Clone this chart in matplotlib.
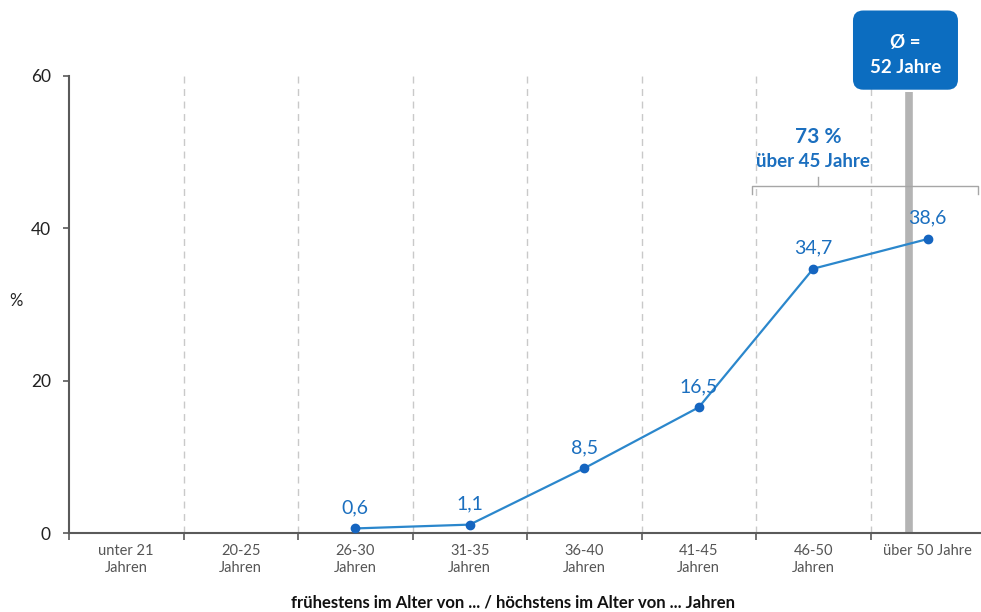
import numpy as np
import matplotlib.pyplot as plt
from matplotlib.patches import FancyBboxPatch

plt.rcParams['font.family'] = ['Lato', 'DejaVu Sans']

categories = ['unter 21\nJahren', '20-25\nJahren', '26-30\nJahren', '31-35\nJahren',
              '36-40\nJahren', '41-45\nJahren', '46-50\nJahren', 'über 50 Jahre']
values = [None, None, 0.6, 1.1, 8.5, 16.5, 34.7, 38.6]
value_labels = ['', '', '0,6', '1,1', '8,5', '16,5', '34,7', '38,6']
y_ticks = [0, 20, 40, 60]
mean_pos = 6.84          # position of the 52-year average on the category axis
mean_text = 'Ø =\n52 Jahre'
share_text = '73 %'
share_sub = 'über 45 Jahre'
x_title = 'frühestens im Alter von ... / höchstens im Alter von ... Jahren'

blue = '#1b6fbf'
line_blue = '#2b87cc'
box_blue = '#0c6dc0'
axis_grey = '#5a5a5a'

fig = plt.figure(figsize=(9.81, 6.12), dpi=100)
ax = fig.add_axes([69 / 981, 79 / 612, 916 / 981, 457 / 612])

x = np.arange(len(categories))
pts = [(i, v) for i, v in zip(x, values) if v is not None]
px = [p[0] for p in pts]
py = [p[1] for p in pts]

# boundaries between categories
for b in np.arange(0.5, len(categories) - 1, 1.0):
    ax.axvline(b, color='#c9c9c9', lw=1, ls=(0, (5, 4)), zorder=1)

# average line
ax.plot([mean_pos, mean_pos], [0, 57.9], color='#b4b4b4', lw=5.5,
        solid_capstyle='butt', clip_on=False, zorder=2)

ax.plot(px, py, color=line_blue, lw=1.6, marker='o', ms=6,
        mfc='#1565c0', mec='#1565c0', zorder=4)
for i, v in zip(x, values):
    if v is None:
        continue
    ax.annotate(value_labels[i], (i, v), xytext=(0, 15), textcoords='offset points',
                ha='center', va='center', color=blue, fontsize=14, zorder=5)

# bracket over the last two groups
bx0, bx1, bmid, by = 5.465, 7.44, 6.04, 45.6
ax.plot([bx0, bx0, bx1, bx1], [44.5, by, by, 44.5], color='#a6a6a6', lw=1,
        clip_on=False, zorder=3)
ax.plot([bmid, bmid], [by, 46.7], color='#a6a6a6', lw=1, zorder=3)
ax.text(bmid, 52.0, share_text, ha='center', va='center', color=blue,
        fontsize=15, fontweight='bold')
ax.text(bmid - 0.04, 48.8, share_sub, ha='center', va='center', color=blue,
        fontsize=13.5, fontweight='bold')

# average box
aspect = (60 / 457) / (1 / 114.5)
box = FancyBboxPatch((6.347, 58.2), 7.264 - 6.347, 68.6 - 58.2,
                     boxstyle='round,pad=0,rounding_size=0.09',
                     mutation_aspect=aspect, fc=box_blue, ec='none',
                     clip_on=False, zorder=6)
ax.add_patch(box)
ax.text((6.347 + 7.264) / 2, 62.8, mean_text, ha='center', va='center',
        color='white', fontsize=13.5, fontweight='bold', linespacing=1.55,
        zorder=7, clip_on=False)

ax.set_xlim(-0.5, len(categories) - 0.5)
ax.set_ylim(0, 60)
ax.set_yticks(y_ticks)
ax.set_xticks(x)
ax.set_xticklabels(categories, fontsize=10.5, color='#555555', linespacing=1.25)
ax.set_xticks(np.arange(-0.5, len(categories), 1.0), minor=True)
ax.tick_params(axis='x', which='major', length=0, pad=8)
ax.tick_params(axis='x', which='minor', length=5, width=1.2, color=axis_grey, direction='out')
ax.tick_params(axis='y', length=4, width=1.2, color=axis_grey, pad=9,
               labelsize=12.5, labelcolor='#222222')

for s in ['top', 'right']:
    ax.spines[s].set_visible(False)
for s in ['left', 'bottom']:
    ax.spines[s].set_color(axis_grey)
    ax.spines[s].set_linewidth(1.5)

ax.set_ylabel('%', rotation=0, fontsize=12, color='#222222')
ax.yaxis.set_label_coords(-0.058, 0.49)

fig.text(513 / 981, 1 - 603 / 612, x_title, ha='center', va='center',
         fontsize=12, fontweight='bold', color='#111111')

fig.savefig('out.png', dpi=100)
